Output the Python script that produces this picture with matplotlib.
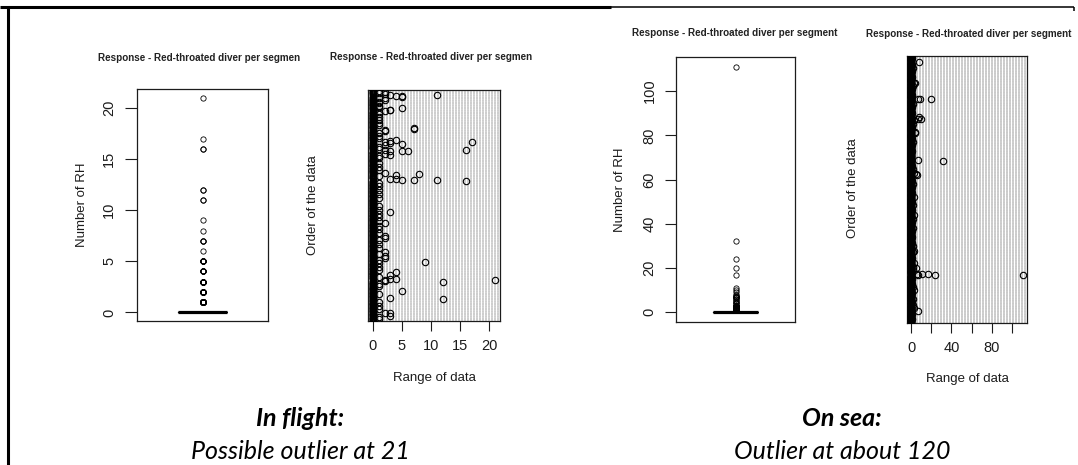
import numpy as np
import matplotlib
matplotlib.use("Agg")
import matplotlib.pyplot as plt
from matplotlib.lines import Line2D

# ---------------------------------------------------------------
# Red-throated diver counts per transect segment
# ---------------------------------------------------------------
TITLE = "Response - Red-throated diver per segment"
TITLE_CUT = "Response - Red-throated diver per segmen"

# In flight: number of segments and the non-zero counts (segment order, count)
flight_n = 600
flight_rows = [596, 590, 588, 587, 586, 585, 583, 580, 575,
               553, 550, 548, 546,
               503, 500, 498, 494,
               470, 468, 467, 466, 463, 460, 457,
               446, 444, 443, 442, 441, 435, 433,
               384, 382, 381, 370, 369, 368, 367, 366, 365,
               284, 254, 221, 217, 180, 168, 164,
               154, 128, 120, 109, 108, 107, 106, 104, 102,
               79, 59, 58, 22, 20, 14]
flight_vals = [2, 2, 11, 3, 4, 5, 5, 2, 2,
               5, 3, 3, 2,
               7, 7, 2, 2,
               4, 3, 2, 17, 3, 5, 2,
               2, 16, 6, 5, 3, 2, 3,
               2, 8, 4, 3, 4, 5, 7, 11, 16,
               3, 2, 2, 2, 2, 2, 2,
               9, 4, 3, 3, 4, 21, 2, 2, 12,
               5, 3, 12, 2, 3, 3]
flight_ones = [599, 593, 581, 571, 566, 560, 556, 543, 538, 530, 522,
               515, 510, 490, 482, 475, 452, 448, 430, 425, 410, 400, 392,
               378, 360, 350, 340, 330, 320, 300, 290, 278, 270, 260, 248,
               240, 230, 210, 200, 190, 175, 160, 150, 140, 133, 115, 96,
               90, 70, 50, 40, 30, 10, 5]

# On sea: number of segments and the non-zero counts (segment order, count)
sea_n = 900
sea_rows = [881, 811, 809, 757, 756, 755, 695, 689, 688, 685, 645, 641,
            550, 547, 505, 503, 501, 426, 398, 364, 242, 240, 201, 185,
            178, 166, 165, 164, 163, 162, 161, 110, 82, 49, 41]
sea_vals = [8, 4, 3, 20, 7, 9, 8, 7, 10, 3, 4, 4,
            7, 32, 3, 5, 6, 3, 2, 3, 3, 2, 3, 5,
            2, 17, 11, 6, 111, 7, 24, 3, 2, 3, 7]
sea_ones = [895, 870, 850, 830, 790, 770, 730, 710, 660, 620, 600, 580,
            530, 480, 460, 440, 410, 380, 340, 310, 290, 270, 220, 150,
            130, 100, 70, 30, 15]
sea_twos = [860, 800, 740, 670, 610, 520, 470, 350, 320, 260, 190, 120, 60]


def build_counts(n, rows, vals, extra):
    counts = np.zeros(n)
    for value, idx in extra:
        counts[np.array(idx) - 1] = value
    counts[np.array(rows) - 1] = vals
    return counts


flight = build_counts(flight_n, flight_rows, flight_vals, [(1, flight_ones)])
sea = build_counts(sea_n, sea_rows, sea_vals, [(1, sea_ones), (2, sea_twos)])

# ---------------------------------------------------------------
W, H = 1078, 465
fig = plt.figure(figsize=(W / 100, H / 100), dpi=100)
fig.patch.set_facecolor("white")

SANS = ["Liberation Sans", "DejaVu Sans"]
INK = "#1c1c1c"


def px_axes(x0, y0, x1, y1):
    return fig.add_axes([x0 / W, 1 - y1 / H, (x1 - x0) / W, (y1 - y0) / H])


def ftext(x, y, s, **kw):
    return fig.text(x / W, 1 - y / H, s, **kw)


def style_frame(ax):
    for sp in ax.spines.values():
        sp.set_linewidth(0.9)
        sp.set_color(INK)


def boxpanel(ax, data, lim, ticks, tick_len):
    ax.boxplot(data, positions=[1], widths=0.37, whis=1.5,
               medianprops=dict(color="black", linewidth=2.3),
               boxprops=dict(color="black", linewidth=0.8),
               whiskerprops=dict(color="black", linewidth=0.8, linestyle="--"),
               capprops=dict(color="black", linewidth=0.8),
               flierprops=dict(marker="o", markerfacecolor="none",
                               markeredgecolor="black", markersize=3.8,
                               markeredgewidth=0.6))
    ax.set_xlim(0.5, 1.5)
    ax.set_ylim(*lim)
    ax.set_xticks([])
    ax.set_yticks(ticks)
    ax.set_yticklabels([str(t) for t in ticks], rotation=90, va="center",
                       fontsize=10.5, family=SANS, color=INK)
    ax.tick_params(axis="y", length=tick_len, width=0.8, pad=6, color=INK)
    style_frame(ax)


def dotpanel(ax, data, lim, ticks, labels):
    n = len(data)
    order = np.arange(1, n + 1)
    ax.hlines(order, lim[0], lim[1], colors="#c8c8c8", linewidth=0.72,
              linestyles=[(0, (1, 2))], zorder=1)
    ax.plot(data, order, linestyle="none", marker="o", markerfacecolor="none",
            markeredgecolor="black", markersize=4.6, markeredgewidth=0.8,
            zorder=3)
    ax.set_xlim(*lim)
    ax.set_ylim(0, n + 1)
    ax.set_yticks([])
    ax.set_xticks(ticks)
    ax.set_xticklabels(labels, fontsize=10.5, family=SANS, color=INK)
    ax.tick_params(axis="x", length=7, width=0.8, pad=6, color=INK)
    style_frame(ax)


def title(x, y, text, ha="center"):
    ftext(x, y, text, ha=ha, va="center", fontsize=7.1,
          fontweight="bold", family=SANS, color="#222222")


# In flight -------------------------------------------------------
ax1 = px_axes(137, 89, 268, 321)
boxpanel(ax1, flight, (-0.84, 21.84), [0, 5, 10, 15, 20], 9)
ax2 = px_axes(368, 90, 500, 321)
dotpanel(ax2, flight, (-0.84, 21.84), [0, 5, 10, 15, 20],
         ["0", "5", "10", "15", "20"])
title(98, 58, TITLE_CUT, ha="left")
title(330, 57, TITLE_CUT, ha="left")
ftext(82, 205, "Number of RH", rotation=90, ha="center", va="center",
      fontsize=9.5, family=SANS, color=INK)
ftext(313, 205, "Order of the data", rotation=90, ha="center", va="center",
      fontsize=9.5, family=SANS, color=INK)
ftext(434, 378, "Range of data", ha="center", va="center",
      fontsize=9.5, family=SANS, color=INK)

# On sea ----------------------------------------------------------
ax3 = px_axes(676, 57, 795, 322)
boxpanel(ax3, sea, (-4.44, 115.44), [0, 20, 40, 60, 80, 100], 8)
ax4 = px_axes(907, 56, 1027, 323)
dotpanel(ax4, sea, (-4.44, 115.44), [0, 20, 40, 60, 80, 100],
         ["0", "", "40", "", "80", ""])
title(735, 33, TITLE)
title(969, 34, TITLE)
ftext(620, 190, "Number of RH", rotation=90, ha="center", va="center",
      fontsize=9.5, family=SANS, color=INK)
ftext(853, 188, "Order of the data", rotation=90, ha="center", va="center",
      fontsize=9.5, family=SANS, color=INK)
ftext(967, 379, "Range of data", ha="center", va="center",
      fontsize=9.5, family=SANS, color=INK)

# Captions --------------------------------------------------------
CAP = ["Lato", "DejaVu Sans"]
ftext(300, 418, "In flight:", ha="center", va="center", fontsize=18,
      fontweight="bold", style="italic", family=CAP)
ftext(300, 451, "Possible outlier at 21", ha="center", va="center",
      fontsize=18, style="italic", family=CAP)
ftext(842, 418, "On sea:", ha="center", va="center", fontsize=18,
      fontweight="bold", style="italic", family=CAP)
ftext(842, 451, "Outlier at about 120", ha="center", va="center",
      fontsize=18, style="italic", family=CAP)

# Panel frame lines -------------------------------------------------
def fline(xs, ys, lw):
    fig.add_artist(Line2D([x / W for x in xs], [1 - y / H for y in ys],
                          color="black", linewidth=lw,
                          solid_capstyle="butt", transform=fig.transFigure))


fline([0, 611], [7.5, 7.5], 2.2)
fline([611, 1074], [7.5, 7.5], 1.1)
fline([1074, 1074], [7, 11], 1.1)
fline([7.5, 7.5], [6.5, 465], 2.2)

fig.savefig("out.png", dpi=100)
